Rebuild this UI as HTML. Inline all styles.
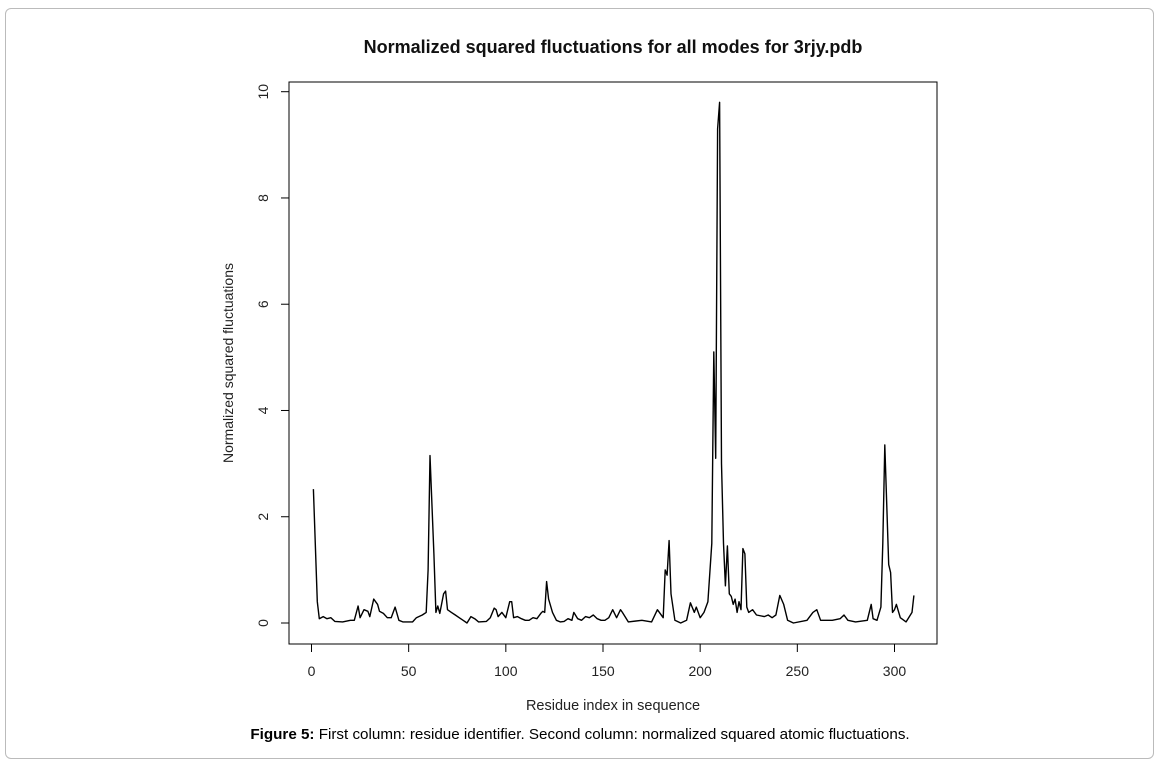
<!DOCTYPE html>
<html><head><meta charset="utf-8"><style>
body{margin:0;background:#fff;width:1161px;height:766px;overflow:hidden;font-family:"Liberation Sans",Arial,sans-serif}
#frame{position:absolute;left:5px;top:8px;width:1149px;height:751px;border:1.5px solid #bbb;border-radius:6px;box-sizing:border-box}
</style></head><body>
<div id="frame"></div>
<svg width="1161" height="766" style="position:absolute;left:0;top:0">
<g id="g"></g>
</svg>
<script>
const residues=[1,3,4,6,8,10,12,16,20,22, 24,25,27,29,30,32,34,35,37,39, 41,43,45,47,52,54,57,59,60,61, 63,64,65,66,68,69,70,72,74,76, 78,80,82,84,86,90,92,94,95,96, 98,100,102,103,104,106,108,110,112,114, 116,118,119,120,121,122,124,126,128,130, 132,134,135,137,139,141,143,145,147,149, 151,153,155,157,159,160,163,170,175,178, 181,182,183,184,185,187,190,193,195,197, 198,200,202,204,206,207,208,209,210,211, 212,213,214,215,216,217,218,219,220,221, 222,223,224,225,227,229,233,235,237,239, 241,243,245,248,255,258,260,262,265,268, 272,274,276,280,286,288,289,291,293,294, 295,297,298,299,300,301,303,306,309,310];
const fluct=[2.52,0.4,0.08,0.12,0.08,0.1,0.03,0.02,0.05,0.05, 0.32,0.1,0.25,0.22,0.12,0.45,0.35,0.22,0.18,0.1, 0.1,0.3,0.05,0.02,0.02,0.1,0.15,0.2,1.0,3.15, 1.3,0.2,0.32,0.18,0.55,0.6,0.25,0.2,0.15,0.1, 0.05,0.0,0.12,0.08,0.02,0.03,0.1,0.28,0.25,0.12, 0.2,0.1,0.4,0.4,0.1,0.12,0.08,0.05,0.05,0.1, 0.08,0.18,0.22,0.2,0.78,0.45,0.2,0.05,0.02,0.03, 0.08,0.05,0.2,0.08,0.05,0.12,0.1,0.15,0.08,0.05, 0.05,0.1,0.25,0.1,0.25,0.2,0.02,0.05,0.02,0.25, 0.1,1.0,0.9,1.55,0.55,0.05,0.0,0.05,0.38,0.2, 0.3,0.1,0.2,0.4,1.5,5.1,3.1,9.3,9.8,3.0, 1.5,0.7,1.45,0.55,0.5,0.35,0.45,0.2,0.4,0.25, 1.4,1.3,0.3,0.2,0.25,0.15,0.12,0.15,0.1,0.15, 0.52,0.35,0.05,0.0,0.05,0.2,0.25,0.05,0.05,0.05, 0.08,0.15,0.05,0.02,0.05,0.35,0.08,0.05,0.3,1.5, 3.35,1.1,0.95,0.2,0.25,0.35,0.1,0.02,0.2,0.52];
const xTicks=[0,50,100,150,200,250,300];
const yTicks=[0,2,4,6,8,10];
const L=289,R=937,T=82,B=644;
const xs=v=>311.5+v*1.9433;
const ys=v=>623-v*53.13;
const NS="http://www.w3.org/2000/svg",g=document.getElementById('g');
function mk(t,a,txt){const e=document.createElementNS(NS,t);for(const k in a)e.setAttribute(k,a[k]);if(txt!=null)e.textContent=txt;g.appendChild(e);return e;}
let e=mk('rect',{x:L,y:T,width:R-L,height:B-T,fill:'none',stroke:'#000','stroke-width':1});


xTicks.forEach(t=>{
 let l=mk('line',{x1:xs(t),x2:xs(t),y1:B,y2:B+8,stroke:'#000'});
 
 
 let s=mk('text',{x:xs(t),y:676,'text-anchor':'middle','font-size':14,fill:'#222'},t);
 
 
});
yTicks.forEach(t=>{
 let l=mk('line',{x1:L-8,x2:L,y1:ys(t),y2:ys(t),stroke:'#000'});
 
 
 let s=mk('text',{x:268,y:ys(t),'text-anchor':'middle','font-size':14,fill:'#222',transform:`rotate(-90 268 ${ys(t)})`},t);
 
 
});
let d=residues.map((r,i)=>(i?'L':'M')+xs(r).toFixed(1)+','+ys(fluct[i]).toFixed(1)).join('');
let p=mk('path',{d:d,fill:'none',stroke:'#000','stroke-width':1.4,'stroke-linejoin':'round'});


let t1=mk('text',{x:613,y:53,'text-anchor':'middle','font-size':18,'font-weight':'bold',fill:'#111'},'Normalized squared fluctuations for all modes for 3rjy.pdb');


let t2=mk('text',{x:613,y:710,'text-anchor':'middle','font-size':14.5,fill:'#222'},'Residue index in sequence');


let t3=mk('text',{x:233,y:363,'text-anchor':'middle','font-size':14,fill:'#222',transform:'rotate(-90 233 363)'},'Normalized squared fluctuations');


let c=mk('text',{x:580,y:739,'text-anchor':'middle','font-size':15.2,fill:'#000'});


c.innerHTML='<tspan font-weight="bold">Figure 5:</tspan> First column: residue identifier. Second column: normalized squared atomic fluctuations.';
</script>
</body></html>
